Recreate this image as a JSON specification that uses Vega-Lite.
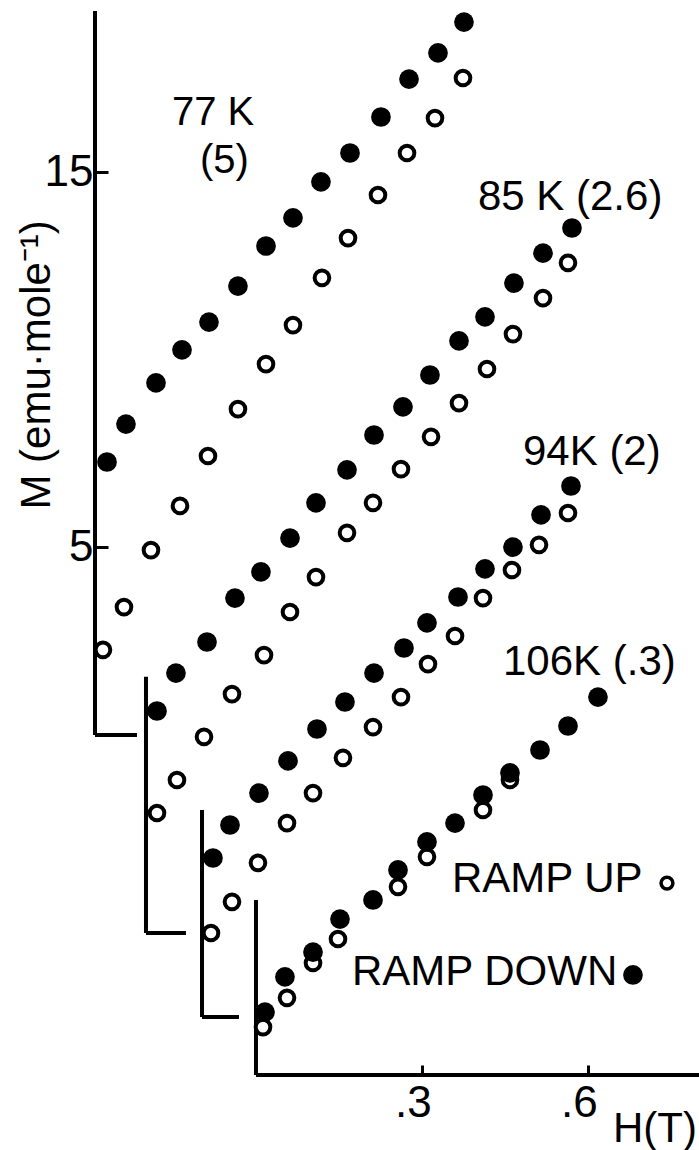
{
  "$schema": "https://vega.github.io/schema/vega-lite/v6.json",
  "width": 604,
  "height": 1075,
  "autosize": {"type": "none"},
  "padding": {"left": 95, "top": 0, "right": 0, "bottom": 75},
  "background": "white",
  "config": {"view": {"stroke": null}, "font": "Liberation Sans"},
  "datasets": {
    "points": [
      {"s": "77K", "ramp": "down", "x": -0.2694, "y": 7.28},
      {"s": "77K", "ramp": "down", "x": -0.2351, "y": 8.29},
      {"s": "77K", "ramp": "down", "x": -0.1808, "y": 9.39},
      {"s": "77K", "ramp": "down", "x": -0.1338, "y": 10.27},
      {"s": "77K", "ramp": "down", "x": -0.085, "y": 11.01},
      {"s": "77K", "ramp": "down", "x": -0.0326, "y": 11.97},
      {"s": "77K", "ramp": "down", "x": 0.0181, "y": 13.04},
      {"s": "77K", "ramp": "down", "x": 0.0669, "y": 13.79},
      {"s": "77K", "ramp": "down", "x": 0.1175, "y": 14.75},
      {"s": "77K", "ramp": "down", "x": 0.17, "y": 15.52},
      {"s": "77K", "ramp": "down", "x": 0.226, "y": 16.48},
      {"s": "77K", "ramp": "down", "x": 0.2767, "y": 17.49},
      {"s": "77K", "ramp": "down", "x": 0.3291, "y": 18.19},
      {"s": "77K", "ramp": "down", "x": 0.3761, "y": 19.01},
      {"s": "77K", "ramp": "up", "x": -0.2767, "y": 2.27},
      {"s": "77K", "ramp": "up", "x": -0.2387, "y": 3.41},
      {"s": "77K", "ramp": "up", "x": -0.1899, "y": 4.93},
      {"s": "77K", "ramp": "up", "x": -0.1374, "y": 6.11},
      {"s": "77K", "ramp": "up", "x": -0.0868, "y": 7.44},
      {"s": "77K", "ramp": "up", "x": -0.0326, "y": 8.69},
      {"s": "77K", "ramp": "up", "x": 0.0181, "y": 9.89},
      {"s": "77K", "ramp": "up", "x": 0.0669, "y": 10.93},
      {"s": "77K", "ramp": "up", "x": 0.1193, "y": 12.19},
      {"s": "77K", "ramp": "up", "x": 0.1664, "y": 13.25},
      {"s": "77K", "ramp": "up", "x": 0.2206, "y": 14.4},
      {"s": "77K", "ramp": "up", "x": 0.2731, "y": 15.52},
      {"s": "77K", "ramp": "up", "x": 0.3237, "y": 16.45},
      {"s": "77K", "ramp": "up", "x": 0.3743, "y": 17.52},
      {"s": "85K", "ramp": "down", "x": -0.179, "y": 0.64},
      {"s": "85K", "ramp": "down", "x": -0.1447, "y": 1.65},
      {"s": "85K", "ramp": "down", "x": -0.0886, "y": 2.48},
      {"s": "85K", "ramp": "down", "x": -0.038, "y": 3.65},
      {"s": "85K", "ramp": "down", "x": 0.009, "y": 4.35},
      {"s": "85K", "ramp": "down", "x": 0.0615, "y": 5.25},
      {"s": "85K", "ramp": "down", "x": 0.1085, "y": 6.19},
      {"s": "85K", "ramp": "down", "x": 0.1646, "y": 7.07},
      {"s": "85K", "ramp": "down", "x": 0.2134, "y": 8.0},
      {"s": "85K", "ramp": "down", "x": 0.2658, "y": 8.75},
      {"s": "85K", "ramp": "down", "x": 0.3146, "y": 9.6},
      {"s": "85K", "ramp": "down", "x": 0.3671, "y": 10.51},
      {"s": "85K", "ramp": "down", "x": 0.4141, "y": 11.15},
      {"s": "85K", "ramp": "down", "x": 0.4665, "y": 12.05},
      {"s": "85K", "ramp": "down", "x": 0.519, "y": 12.85},
      {"s": "85K", "ramp": "down", "x": 0.5714, "y": 13.52},
      {"s": "85K", "ramp": "up", "x": -0.179, "y": -2.08},
      {"s": "85K", "ramp": "up", "x": -0.1429, "y": -1.2},
      {"s": "85K", "ramp": "up", "x": -0.094, "y": -0.05},
      {"s": "85K", "ramp": "up", "x": -0.0434, "y": 1.09},
      {"s": "85K", "ramp": "up", "x": 0.0145, "y": 2.13},
      {"s": "85K", "ramp": "up", "x": 0.0615, "y": 3.28},
      {"s": "85K", "ramp": "up", "x": 0.1085, "y": 4.21},
      {"s": "85K", "ramp": "up", "x": 0.1646, "y": 5.39},
      {"s": "85K", "ramp": "up", "x": 0.2116, "y": 6.19},
      {"s": "85K", "ramp": "up", "x": 0.2622, "y": 7.09},
      {"s": "85K", "ramp": "up", "x": 0.3165, "y": 7.95},
      {"s": "85K", "ramp": "up", "x": 0.3671, "y": 8.85},
      {"s": "85K", "ramp": "up", "x": 0.4177, "y": 9.76},
      {"s": "85K", "ramp": "up", "x": 0.4647, "y": 10.69},
      {"s": "85K", "ramp": "up", "x": 0.519, "y": 11.65},
      {"s": "85K", "ramp": "up", "x": 0.5642, "y": 12.59},
      {"s": "94K", "ramp": "down", "x": -0.0778, "y": -3.28},
      {"s": "94K", "ramp": "down", "x": -0.047, "y": -2.4},
      {"s": "94K", "ramp": "down", "x": 0.0054, "y": -1.55},
      {"s": "94K", "ramp": "down", "x": 0.0579, "y": -0.69},
      {"s": "94K", "ramp": "down", "x": 0.1103, "y": 0.16},
      {"s": "94K", "ramp": "down", "x": 0.1609, "y": 0.88},
      {"s": "94K", "ramp": "down", "x": 0.2134, "y": 1.65},
      {"s": "94K", "ramp": "down", "x": 0.2676, "y": 2.32},
      {"s": "94K", "ramp": "down", "x": 0.3092, "y": 2.99},
      {"s": "94K", "ramp": "down", "x": 0.3653, "y": 3.68},
      {"s": "94K", "ramp": "down", "x": 0.4141, "y": 4.43},
      {"s": "94K", "ramp": "down", "x": 0.4647, "y": 5.01},
      {"s": "94K", "ramp": "down", "x": 0.5154, "y": 5.87},
      {"s": "94K", "ramp": "down", "x": 0.5696, "y": 6.64},
      {"s": "94K", "ramp": "up", "x": -0.0814, "y": -5.28},
      {"s": "94K", "ramp": "up", "x": -0.0434, "y": -4.45},
      {"s": "94K", "ramp": "up", "x": 0.0036, "y": -3.41},
      {"s": "94K", "ramp": "up", "x": 0.0561, "y": -2.35},
      {"s": "94K", "ramp": "up", "x": 0.1031, "y": -1.55},
      {"s": "94K", "ramp": "up", "x": 0.1573, "y": -0.61},
      {"s": "94K", "ramp": "up", "x": 0.2116, "y": 0.21},
      {"s": "94K", "ramp": "up", "x": 0.2622, "y": 1.01},
      {"s": "94K", "ramp": "up", "x": 0.311, "y": 1.89},
      {"s": "94K", "ramp": "up", "x": 0.3599, "y": 2.64},
      {"s": "94K", "ramp": "up", "x": 0.4105, "y": 3.65},
      {"s": "94K", "ramp": "up", "x": 0.4629, "y": 4.4},
      {"s": "94K", "ramp": "up", "x": 0.5118, "y": 5.07},
      {"s": "94K", "ramp": "up", "x": 0.5642, "y": 5.92},
      {"s": "106K", "ramp": "down", "x": 0.0163, "y": -7.39},
      {"s": "106K", "ramp": "down", "x": 0.0524, "y": -6.45},
      {"s": "106K", "ramp": "down", "x": 0.1031, "y": -5.79},
      {"s": "106K", "ramp": "down", "x": 0.1519, "y": -4.91},
      {"s": "106K", "ramp": "down", "x": 0.2116, "y": -4.4},
      {"s": "106K", "ramp": "down", "x": 0.2568, "y": -3.6},
      {"s": "106K", "ramp": "down", "x": 0.3092, "y": -2.85},
      {"s": "106K", "ramp": "down", "x": 0.3599, "y": -2.35},
      {"s": "106K", "ramp": "down", "x": 0.4105, "y": -1.6},
      {"s": "106K", "ramp": "down", "x": 0.4593, "y": -1.01},
      {"s": "106K", "ramp": "down", "x": 0.5136, "y": -0.4},
      {"s": "106K", "ramp": "down", "x": 0.5642, "y": 0.24},
      {"s": "106K", "ramp": "down", "x": 0.6184, "y": 1.01},
      {"s": "106K", "ramp": "up", "x": 0.0127, "y": -7.79},
      {"s": "106K", "ramp": "up", "x": 0.0561, "y": -7.01},
      {"s": "106K", "ramp": "up", "x": 0.1031, "y": -6.08},
      {"s": "106K", "ramp": "up", "x": 0.1483, "y": -5.44},
      {"s": "106K", "ramp": "up", "x": 0.2568, "y": -4.05},
      {"s": "106K", "ramp": "up", "x": 0.3092, "y": -3.25},
      {"s": "106K", "ramp": "up", "x": 0.4105, "y": -2.0},
      {"s": "106K", "ramp": "up", "x": 0.4593, "y": -1.2}
    ],
    "segs": [
      {"x": -0.2911, "y": 0, "x2": -0.2911, "y2": 19.31},
      {"x": -0.2911, "y": 0, "x2": -0.2152, "y2": 0},
      {"x": -0.1989, "y": -5.28, "x2": -0.1989, "y2": 1.55},
      {"x": -0.1989, "y": -5.28, "x2": -0.1266, "y2": -5.28},
      {"x": -0.0976, "y": -7.52, "x2": -0.0976, "y2": -2.0},
      {"x": -0.0976, "y": -7.52, "x2": -0.0307, "y2": -7.52},
      {"x": 0, "y": -9.0667, "x2": 0, "y2": -4.4},
      {"x": 0, "y": -9.0667, "x2": 0.8011, "y2": -9.0667}
    ],
    "legendpts": [
      {"ramp": "up", "x": 0.7432, "y": -3.95},
      {"ramp": "down", "x": 0.6817, "y": -6.4}
    ],
    "labels": [
      {"t": "85 K (2.6)", "x": 0.4014, "y": 14.0},
      {"t": "94K (2)", "x": 0.4828, "y": 7.2},
      {"t": "106K (.3)", "x": 0.4467, "y": 1.6},
      {"t": "RAMP UP", "x": 0.3544, "y": -4.19},
      {"t": "RAMP DOWN", "x": 0.1736, "y": -6.67},
      {"t": "H(T)", "x": 0.6456, "y": -10.85}
    ],
    "labels77": [
      {"t": "77 K", "x": -0.1519, "y": 16.27},
      {"t": "(5)", "x": -0.1013, "y": 14.99}
    ],
    "ytitle": [
      {"t": "M (emu·mole⁻¹)", "x": -0.3725, "y": 9.87}
    ]
  },
  "encoding": {
    "x": {
      "field": "x",
      "type": "quantitative",
      "scale": {"domain": [-0.2911, 0.8011], "nice": false, "zero": false},
      "axis": {
        "values": [0.3, 0.6],
        "labelExpr": "replace(format(datum.value, '.1f'), '0.', '.')",
        "domain": false,
        "grid": false,
        "ticks": true,
        "tickSize": -10,
        "tickWidth": 3,
        "tickColor": "black",
        "labelFontSize": 44,
        "labelColor": "black",
        "labelFont": "Liberation Sans",
        "labelPadding": 16,
        "labelOffset": -9,
        "title": null
      }
    },
    "y": {
      "field": "y",
      "type": "quantitative",
      "scale": {"domain": [-9.0667, 19.6], "nice": false, "zero": false},
      "axis": {
        "values": [5, 15],
        "domain": false,
        "grid": false,
        "ticks": true,
        "tickSize": -13,
        "tickWidth": 3,
        "tickColor": "black",
        "labelFontSize": 44,
        "labelColor": "black",
        "labelFont": "Liberation Sans",
        "labelPadding": 15,
        "title": null
      }
    }
  },
  "layer": [
    {
      "data": {"name": "segs"},
      "mark": {"type": "rule", "strokeWidth": 4, "color": "black"},
      "encoding": {"x2": {"field": "x2"}, "y2": {"field": "y2"}}
    },
    {
      "data": {"name": "points"},
      "transform": [{"filter": "datum.ramp === 'up'"}],
      "mark": {"type": "point", "shape": "circle", "filled": true, "fill": "white", "stroke": "black", "strokeWidth": 4, "size": 215, "opacity": 1}
    },
    {
      "data": {"name": "points"},
      "transform": [{"filter": "datum.ramp === 'down'"}],
      "mark": {"type": "point", "shape": "circle", "filled": true, "fill": "black", "strokeWidth": 0, "size": 390, "opacity": 1}
    },
    {
      "data": {"name": "legendpts"},
      "transform": [{"filter": "datum.ramp === 'up'"}],
      "mark": {"type": "point", "shape": "circle", "filled": true, "fill": "white", "stroke": "black", "strokeWidth": 3.5, "size": 140, "opacity": 1}
    },
    {
      "data": {"name": "legendpts"},
      "transform": [{"filter": "datum.ramp === 'down'"}],
      "mark": {"type": "point", "shape": "circle", "filled": true, "fill": "black", "strokeWidth": 0, "size": 390, "opacity": 1}
    },
    {
      "data": {"name": "labels"},
      "mark": {"type": "text", "align": "left", "baseline": "alphabetic", "fontSize": 42, "font": "Liberation Sans", "color": "black"},
      "encoding": {"text": {"field": "t"}}
    },
    {
      "data": {"name": "labels77"},
      "mark": {"type": "text", "align": "left", "baseline": "alphabetic", "fontSize": 40, "font": "Liberation Sans", "color": "black"},
      "encoding": {"text": {"field": "t"}}
    },
    {
      "data": {"name": "ytitle"},
      "mark": {"type": "text", "align": "center", "baseline": "alphabetic", "angle": 270, "fontSize": 42, "font": "Liberation Sans", "color": "black"},
      "encoding": {"text": {"field": "t"}}
    }
  ]
}
